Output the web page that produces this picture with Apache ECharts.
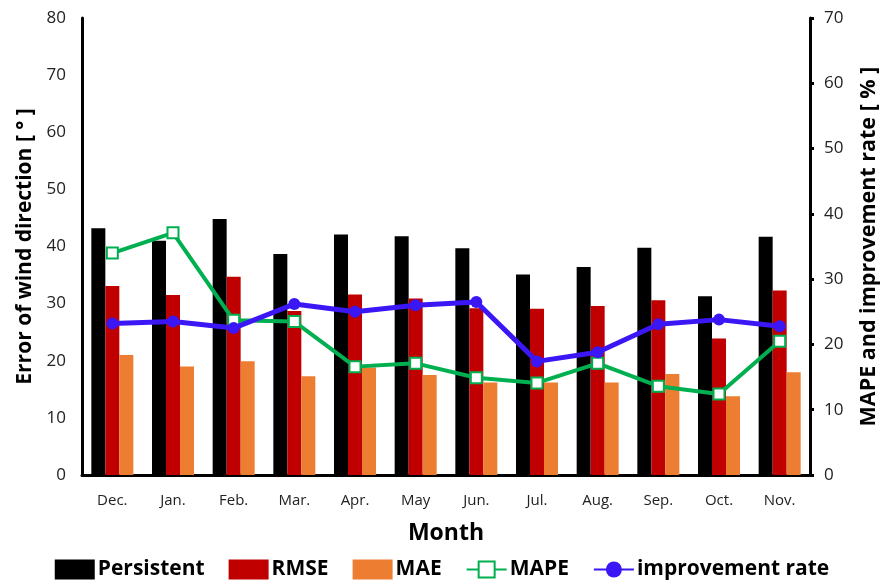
<!DOCTYPE html>
<html>
<head>
<meta charset="utf-8">
<script src="https://cdn.jsdelivr.net/npm/echarts@6/dist/echarts.min.js"></script>
<style>
  html, body { margin: 0; padding: 0; background: #fff; }
  #chart { width: 884px; height: 585px; }
</style>
</head>
<body>
<div id="chart"></div>
<script>
// Monthly wind-direction error statistics
const months = ['Dec.', 'Jan.', 'Feb.', 'Mar.', 'Apr.', 'May', 'Jun.', 'Jul.', 'Aug.', 'Sep.', 'Oct.', 'Nov.'];
const persistent = [43.2, 41.0, 44.8, 38.7, 42.1, 41.8, 39.7, 35.1, 36.4, 39.8, 31.3, 41.7];
const rmse       = [33.1, 31.5, 34.7, 28.7, 31.6, 30.9, 29.2, 29.1, 29.6, 30.6, 23.9, 32.3];
const mae        = [21.0, 19.0, 19.9, 17.3, 18.8, 17.5, 16.2, 16.2, 16.2, 17.7, 13.8, 18.0];
const mape       = [34.0, 37.1, 23.7, 23.5, 16.6, 17.1, 14.9, 14.1, 17.1, 13.6, 12.4, 20.5];
const improvement = [23.2, 23.5, 22.5, 26.2, 25.0, 26.0, 26.5, 17.4, 18.8, 23.1, 23.8, 22.8];
const leftTicks = [0, 80, 10];   // min, max, interval
const rightTicks = [0, 70, 10];

const font = '"Open Sans", "Noto Sans", sans-serif';

const chart = echarts.init(document.getElementById('chart'), null, { renderer: 'canvas' });

const barSeries = (name, data, color) => ({
  name, type: 'bar', data, yAxisIndex: 0,
  barWidth: 14, barGap: '0%',
  itemStyle: { color }
});

chart.setOption({
  animation: false,
  grid: { left: 82, right: 74, top: 18, bottom: 110, outerBoundsMode: 'none', containLabel: false },
  legend: {
    bottom: 0, left: 'center',
    itemWidth: 40, itemHeight: 20, itemGap: 24,
    textStyle: { fontFamily: font, fontWeight: 'bold', fontSize: 21, color: '#000', padding: [0, 0, 0, -2] },
    data: [
      { name: 'Persistent', icon: 'rect' },
      { name: 'RMSE', icon: 'rect' },
      { name: 'MAE', icon: 'rect' },
      'MAPE',
      'improvement rate'
    ]
  },
  xAxis: {
    type: 'category', data: months,
    name: 'Month', nameLocation: 'middle', nameGap: 47,
    nameTextStyle: { fontFamily: font, fontWeight: 'bold', fontSize: 23, color: '#000' },
    axisLine: { lineStyle: { color: '#000', width: 3 } },
    axisTick: { show: false },
    axisLabel: { fontFamily: font, fontSize: 15, color: '#222', margin: 18 }
  },
  yAxis: [
    {
      type: 'value', min: leftTicks[0], max: leftTicks[1], interval: leftTicks[2],
      name: 'Error of wind direction [ \u00b0 ]', nameLocation: 'middle', nameGap: 43, nameRotate: 90,
      nameTextStyle: { fontFamily: font, fontWeight: 'bold', fontSize: 21, color: '#000' },
      axisLine: { show: true, lineStyle: { color: '#000', width: 3 } },
      axisTick: { show: false },
      splitLine: { show: false },
      axisLabel: { fontFamily: font, fontSize: 17, color: '#222', margin: 16 }
    },
    {
      type: 'value', min: rightTicks[0], max: rightTicks[1], interval: rightTicks[2],
      position: 'right',
      name: 'MAPE and improvement rate [ % ]', nameLocation: 'middle', nameGap: 48, nameRotate: 90,
      nameTextStyle: { fontFamily: font, fontWeight: 'bold', fontSize: 21.5, color: '#000' },
      axisLine: { show: true, lineStyle: { color: '#000', width: 3 } },
      axisTick: { show: true, length: 4, lineStyle: { color: '#000', width: 3 } },
      splitLine: { show: false },
      axisLabel: { fontFamily: font, fontSize: 17, color: '#222', margin: 14 }
    }
  ],
  series: [
    barSeries('Persistent', persistent, '#000000'),
    barSeries('RMSE', rmse, '#C00000'),
    barSeries('MAE', mae, '#ED7D31'),
    {
      name: 'MAPE', type: 'line', yAxisIndex: 1, data: mape,
      symbol: 'rect', symbolSize: 11,
      lineStyle: { color: '#00B050', width: 4 },
      itemStyle: { color: '#fff', borderColor: '#00B050', borderWidth: 2 },
      z: 3
    },
    {
      name: 'improvement rate', type: 'line', yAxisIndex: 1, data: improvement,
      symbol: 'circle', symbolSize: 12,
      lineStyle: { color: '#3B17F5', width: 5 },
      itemStyle: { color: '#3B17F5' },
      z: 4
    }
  ]
});
</script>
</body>
</html>
